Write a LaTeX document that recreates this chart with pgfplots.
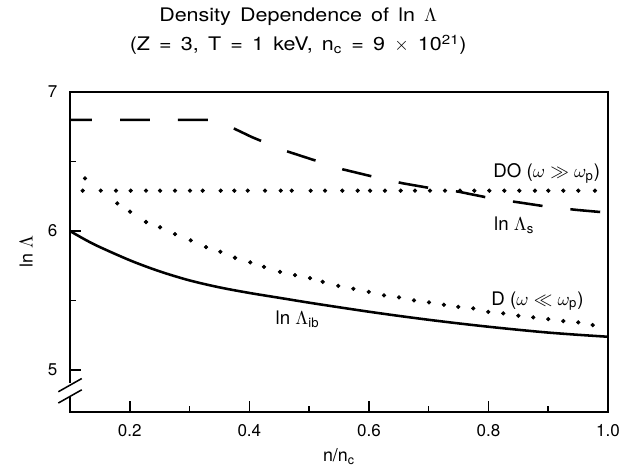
\documentclass[border=0pt]{standalone}
\usepackage{amsmath}
\usepackage{fontspec}
\setmainfont{TeX Gyre Heros}
\newfontfamily\titlefont[FakeStretch=1.15]{TeX Gyre Heros}
\usepackage{pgfplots}
\pgfplotsset{compat=1.18}

\begin{document}
\begin{tikzpicture}
\begin{axis}[
  scale only axis, width=316.5pt, height=188.2pt,
  xmin=0.1, xmax=1.0, ymin=4.7, ymax=7,
  clip=false,
  font=\fontsize{10}{12}\selectfont,
  axis line style={line width=1.1pt},
  xtick={0.2,0.4,0.6,0.8,1.0}, minor xtick={0.3,0.5,0.7,0.9},
  ytick={5,6,7}, minor ytick={5.5,6.5},
  xtick pos=bottom, ytick pos=left,
  major tick length=6.5pt, minor tick length=3.6pt,
  every tick/.style={black, line width=0.9pt},
  /pgf/number format/assume math mode=true,
  x tick label style={/pgf/number format/fixed, /pgf/number format/fixed zerofill, /pgf/number format/precision=1, yshift=-4pt},
  y tick label style={xshift=-4pt},
  xlabel={n/n\textsubscript{c}},
  ylabel={ln $\Lambda$},
  ylabel shift=2pt,
  label style={font=\fontsize{10.5}{12}\selectfont},
]
% ln Lambda_s (dashed)
\addplot[black, line width=1.5pt, dash pattern=on 17.6pt off 16.5pt, dash phase=4.7pt] coordinates {
 (0.1,6.8) (0.345,6.8) (0.354,6.779) (0.404,6.676) (0.456,6.583) (0.504,6.516)
 (0.556,6.444) (0.607,6.391) (0.657,6.343) (0.705,6.307) (0.75,6.283) (0.805,6.235)
 (0.854,6.204) (0.905,6.171) (0.95,6.151) (1.0,6.132)};
% DO (dotted, flat)
\addplot[black, only marks, mark=*, mark size=1.05pt] coordinates {
 (0.1212,6.29) (0.1514,6.29) (0.1769,6.29) (0.2015,6.29) (0.2271,6.29) (0.2506,6.29)
 (0.2756,6.29) (0.3007,6.29) (0.3220,6.29) (0.3521,6.29) (0.3748,6.29) (0.3973,6.29)
 (0.4262,6.29) (0.4525,6.29) (0.4709,6.29) (0.5026,6.29) (0.5266,6.29) (0.5555,6.29)
 (0.5813,6.29) (0.6019,6.29) (0.6269,6.29) (0.6532,6.29) (0.6771,6.29) (0.7022,6.29)
 (0.7273,6.29) (0.7524,6.29) (0.7763,6.29) (0.8014,6.29) (0.8265,6.29) (0.8516,6.29)
 (0.8778,6.29) (0.9001,6.29) (0.9252,6.29) (0.9503,6.29) (0.9782,6.29)};
% D (dotted, falling)
\addplot[black, only marks, mark=*, mark size=1.05pt] coordinates {
 (0.1251,6.379) (0.1791,6.199) (0.2004,6.139) (0.2271,6.065) (0.2506,6.027) (0.2756,5.978)
 (0.3019,5.933) (0.3275,5.885) (0.3514,5.851) (0.3760,5.808) (0.4016,5.775) (0.4245,5.743)
 (0.4513,5.707) (0.4764,5.683) (0.5015,5.662) (0.5227,5.635) (0.5488,5.606) (0.5739,5.585)
 (0.5997,5.563) (0.6253,5.537) (0.6504,5.523) (0.6754,5.501) (0.7005,5.487) (0.7256,5.470)
 (0.7496,5.455) (0.7746,5.444) (0.7997,5.419) (0.8248,5.408) (0.8499,5.391) (0.8750,5.379)
 (0.9001,5.367) (0.9252,5.353) (0.9503,5.343) (0.9744,5.324)};
% ln Lambda_ib (solid)
\addplot[black, line width=1.5pt, smooth] coordinates {
 (0.1,6.0) (0.14,5.905) (0.2,5.79) (0.25,5.71) (0.3,5.645) (0.35,5.595) (0.4,5.555)
 (0.45,5.52) (0.5,5.485) (0.55,5.452) (0.6,5.42) (0.65,5.39) (0.7,5.362) (0.75,5.336)
 (0.8,5.312) (0.85,5.29) (0.9,5.27) (0.95,5.254) (1.0,5.24)};

\begin{scope}[every node/.style={font=\fontsize{11}{13}\selectfont}]
\node at (axis cs:0.8975,6.417) {DO ($\omega \gg \omega_{\text{p}}$)};
\node at (axis cs:0.843,6.043) {ln $\Lambda_{\text{s}}$};
\node at (axis cs:0.882,5.496) {D ($\omega \ll \omega_{\text{p}}$)};
\node at (axis cs:0.4806,5.367) {ln $\Lambda_{\text{ib}}$};
\end{scope}

\coordinate (gaptop) at (axis cs:0.1,4.905);
\coordinate (gapbot) at (axis cs:0.1,4.806);
\coordinate (brk1) at (axis cs:0.1,4.892);
\coordinate (brk2) at (axis cs:0.1,4.811);
\coordinate (ttl) at (rel axis cs:0.5,1);
\end{axis}

% axis break on the y axis
\draw[white, line width=3pt] (gaptop) -- (gapbot);
\draw[line width=0.9pt] ([shift={(-6.9pt,-3.9pt)}]brk1) -- ([shift={(6.9pt,3.9pt)}]brk1);
\draw[line width=0.9pt] ([shift={(-6.9pt,-3.9pt)}]brk2) -- ([shift={(6.9pt,3.9pt)}]brk2);

% title
\node[anchor=base, font=\titlefont\fontsize{11}{14}\selectfont] at ([shift={(-24pt,41.2pt)}]ttl) {\spaceskip=5.4pt\relax Density Dependence of ln $\Lambda$};
\node[anchor=base, font=\titlefont\fontsize{11}{14}\selectfont] at ([shift={(-24pt,24.1pt)}]ttl) {\spaceskip=5.4pt\relax (Z = 3, T = 1 keV, n\textsubscript{c} = 9 $\times$ 10\textsuperscript{21})};

\pgfresetboundingbox
\path[use as bounding box] ([shift={(-41.2pt,-31.2pt)}]current axis.south west) rectangle ([shift={(15.3pt,54.1pt)}]current axis.north east);
\end{tikzpicture}
\end{document}
